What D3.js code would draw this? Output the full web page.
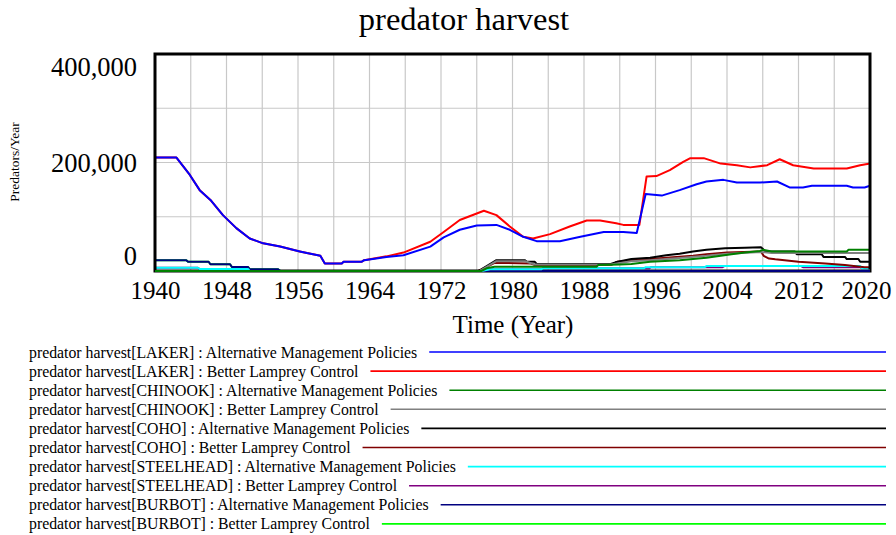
<!DOCTYPE html>
<html>
<head>
<meta charset="utf-8">
<script src="https://cdn.jsdelivr.net/npm/d3@7"></script>
<style>
  html, body { margin: 0; padding: 0; background: #fff; }
  svg { display: block; font-family: "Liberation Serif", "Times New Roman", serif; }
</style>
</head>
<body>
<svg id="chart" width="896" height="535"></svg>
<script>
// ---------------- DATA ----------------
const title = "predator harvest";
const yAxisLabel = "Predators/Year";
const xAxisLabel = "Time (Year)";
const xTicks = [1940, 1948, 1956, 1964, 1972, 1980, 1988, 1996, 2004, 2012, 2020];
const yTicks = [0, 200000, 400000];

// [year, predators/year] points
const lakerAlt = [[1940,209000],[1942.4,209000],[1943.9,177000],[1945,149000],[1946.2,131000],[1947.6,103000],[1949.1,79000],[1950.6,60000],[1952.1,51000],[1954,45000],[1956.2,36000],[1957,33000],[1958.5,28000],[1959,14000],[1960.9,14000],[1961.1,17000],[1963.1,17000],[1963.4,20000],[1965.9,26000],[1967.8,29000],[1970.8,45000],[1972.3,62000],[1974.1,76000],[1976,84000],[1978.2,85000],[1979.7,76000],[1981.2,63000],[1982.7,55000],[1985.3,55000],[1987.6,63000],[1990.2,72000],[1992.4,72000],[1993.9,70000],[1994.9,142000],[1996.7,139000],[1998.7,149000],[2000.6,160000],[2001.7,165000],[2003.6,168000],[2005.1,163000],[2007.7,163000],[2009.6,165000],[2011,154000],[2012.5,154000],[2013.5,157000],[2017.4,157000],[2018.1,154000],[2019.4,154000],[2020,157000]];
const lakerBetter = [[1940,209000],[1942.4,209000],[1943.9,177000],[1945,149000],[1946.2,131000],[1947.6,103000],[1949.1,79000],[1950.6,60000],[1952.1,51000],[1954,45000],[1956.2,36000],[1957,33000],[1958.5,28000],[1959,14000],[1960.9,14000],[1961.1,17000],[1963.1,17000],[1963.4,20000],[1965.9,27000],[1967.8,34000],[1970.8,54000],[1972.3,72000],[1974.1,94000],[1976,106000],[1976.8,111000],[1978.2,103000],[1979.7,82000],[1981.2,63000],[1982.3,60000],[1984.2,68000],[1986.4,82000],[1988.3,93000],[1989.8,93000],[1991.6,88000],[1992.4,85000],[1994.2,85000],[1995,174000],[1996.1,175000],[1997.6,186000],[1999.1,201000],[1999.9,208000],[2001.4,208000],[2003.3,198000],[2005.1,195000],[2006.6,191000],[2008.5,195000],[2009.9,206000],[2011.4,195000],[2013.7,189000],[2017.4,189000],[2018.9,195000],[2020,198000]];
const chinookAlt = [[1940,0],[1976.5,0],[1977.1,5000],[1978,8000],[1989.4,8000],[1989.6,11000],[1992,12000],[1993.3,13000],[1995.4,17000],[1998.7,20000],[2001.7,24500],[2004.5,31000],[2006,34000],[2007.7,37000],[2008,39000],[2009,36000],[2017.4,36000],[2017.6,39000],[2020,39000]];
const chinookBetter = [[1940,0],[1976.3,0],[1978.2,18000],[1981.4,18000],[1982.5,12000],[1991,12000],[1993.3,18000],[1995.4,20000],[1998.7,24000],[2001.7,28000],[2004,32000],[2007.8,35000],[2009,33000],[2020,33000]];
const cohoAlt = [[1940,0],[1976.2,0],[1978.2,20000],[1981.4,20000],[1981.6,17000],[1982.5,17000],[1982.7,13000],[1991,13000],[1991.5,16000],[1993.3,22000],[1995.4,24500],[1997.2,29000],[1998.7,32000],[2000.2,36000],[2001.7,39000],[2003.8,42000],[2006,43000],[2007.8,44000],[2008.3,36000],[2011.6,36000],[2011.8,31000],[2014.6,31000],[2014.8,26000],[2017.2,26000],[2017.4,22000],[2018.7,22000],[2018.9,17000],[2020,17000]];
const cohoBetter = [[1940,0],[1976.2,0],[1978,15000],[1982,14000],[1982.5,11000],[1991,11000],[1991.7,17000],[1993.3,20000],[1995.4,22000],[1997.2,24500],[2000.2,28000],[2001.7,31000],[2004,34000],[2007.8,36000],[2008.1,28000],[2008.7,23000],[2009.4,21500],[2012,17000],[2015,14000],[2017.2,11000],[2019.4,7000],[2020,7000]];
const steelheadAlt = [[1940,6000],[1944.8,6000],[1945,3700],[1950.4,3700],[1950.6,0],[1976.5,0],[1977.5,3000],[1983.2,3000],[1983.4,5000],[1994.7,5000],[1994.9,7000],[2001.5,7000],[2001.7,9000],[2018.9,9000],[2019.1,5000],[2020,5000]];
const steelheadBetter = [[1940,6000],[1944.8,6000],[1945,3700],[1950.4,3700],[1950.6,0],[1976.5,0],[1977.5,3000],[1983.2,3000],[1983.4,5000],[1995.3,5000],[1995.5,7000],[2003.5,7000],[2003.7,9000],[2012.3,9000],[2012.5,7000],[2018.9,7000],[2019.1,5000],[2020,5000]];
const burbotAlt = [[1940,20000],[1943.5,20000],[1943.7,17000],[1946,17000],[1946.2,12500],[1948.4,12500],[1948.6,7500],[1950.4,7500],[1950.6,3000],[1953.8,3000],[1954,0],[2020,0]];
const burbotBetter = [[1940,20000],[1943.5,20000],[1943.7,17000],[1946,17000],[1946.2,12500],[1948.4,12500],[1948.6,7500],[1950.4,7500],[1950.6,3000],[1953.8,3000],[1954,0],[2020,0]];

const seriesNames = [
  "predator harvest[LAKER] : Alternative Management Policies",
  "predator harvest[LAKER] : Better Lamprey Control",
  "predator harvest[CHINOOK] : Alternative Management Policies",
  "predator harvest[CHINOOK] : Better Lamprey Control",
  "predator harvest[COHO] : Alternative Management Policies",
  "predator harvest[COHO] : Better Lamprey Control",
  "predator harvest[STEELHEAD] : Alternative Management Policies",
  "predator harvest[STEELHEAD] : Better Lamprey Control",
  "predator harvest[BURBOT] : Alternative Management Policies",
  "predator harvest[BURBOT] : Better Lamprey Control"
];
const seriesValues = [lakerAlt, lakerBetter, chinookAlt, chinookBetter, cohoAlt, cohoBetter, steelheadAlt, steelheadBetter, burbotAlt, burbotBetter];
const seriesColors = ["#0000ff", "#ff0000", "#008000", "#808080", "#000000", "#800000", "#00ffff", "#800080", "#000080", "#00ff00"];

// ---------------- LAYOUT ----------------
const plot = { left: 155, right: 870, top: 54, bottom: 271 };
const svg = d3.select("#chart");

const x = d3.scaleLinear().domain([1940, 2020]).range([plot.left, plot.right]);
const y = d3.scaleLinear().domain([0, 400000]).range([plot.bottom, plot.top]);

// title
svg.append("text").attr("x", 464).attr("y", 30).attr("text-anchor", "middle")
  .attr("font-size", 32.5).attr("fill", "#000").text(title);

// grid
const grid = svg.append("g");
grid.selectAll("line.v").data(d3.range(1944, 2020, 4)).join("line")
  .attr("x1", d => x(d)).attr("x2", d => x(d))
  .attr("y1", plot.top).attr("y2", plot.bottom)
  .attr("stroke", "#c8c8c8").attr("stroke-width", 1.2);
grid.selectAll("line.h").data([100000, 200000, 300000]).join("line")
  .attr("x1", plot.left).attr("x2", plot.right)
  .attr("y1", d => y(d)).attr("y2", d => y(d))
  .attr("stroke", "#c8c8c8").attr("stroke-width", 1.2);

// axes (labels)
const fmt = d3.format(",");
const yAxis = svg.append("g").attr("transform", `translate(${plot.left - 18},0)`)
  .call(d3.axisLeft(y).tickValues(yTicks).tickSize(0).tickPadding(0).tickFormat(fmt));
yAxis.select(".domain").remove();
yAxis.selectAll("text").attr("font-size", 26.5).attr("font-family", "Liberation Serif").attr("fill", "#000")
  .attr("dy", d => d === 400000 ? "0.8em" : (d === 0 ? "-0.25em" : "0.33em"));

const xAxis = svg.append("g").attr("transform", `translate(0,${plot.bottom})`)
  .call(d3.axisBottom(x).tickValues(xTicks).tickSize(0).tickPadding(0).tickFormat(d3.format("d")));
xAxis.select(".domain").remove();
xAxis.selectAll("text").attr("font-size", 25).attr("font-family", "Liberation Serif").attr("fill", "#000")
  .attr("y", 19).attr("dy", "0.35em")
  .attr("x", d => d === 2020 ? -4 : 0);

svg.append("text").attr("x", 513).attr("y", 324).attr("dy", "0.35em").attr("text-anchor", "middle")
  .attr("font-size", 25).text(xAxisLabel);
svg.append("text").attr("transform", `translate(14,162) rotate(-90)`).attr("dy", "0.35em")
  .attr("text-anchor", "middle").attr("font-size", 13.5).text(yAxisLabel);

// series lines (first series drawn on top)
const line = d3.line().x(d => x(d[0])).y(d => y(d[1]));
const order = d3.range(seriesValues.length).reverse();
svg.append("g").selectAll("path").data(order).join("path")
  .attr("d", i => line(seriesValues[i]))
  .attr("fill", "none").attr("stroke", i => seriesColors[i])
  .attr("stroke-width", 2).attr("stroke-linejoin", "round");

// frame
svg.append("rect").attr("x", plot.left).attr("y", plot.top)
  .attr("width", plot.right - plot.left).attr("height", plot.bottom - plot.top)
  .attr("fill", "none").attr("stroke", "#000").attr("stroke-width", 3);
// re-draw series over the bottom frame edge
svg.append("clipPath").attr("id", "bottomClip").append("rect")
  .attr("x", plot.left).attr("y", plot.bottom - 2).attr("width", plot.right - plot.left).attr("height", 4);
svg.append("g").attr("clip-path", "url(#bottomClip)").selectAll("path").data(order).join("path")
  .attr("d", i => line(seriesValues[i]))
  .attr("fill", "none").attr("stroke", i => seriesColors[i])
  .attr("stroke-width", 2).attr("stroke-linejoin", "round");

// legend
const legend = svg.append("g");
const rowY = i => 352 + i * 19.1;
seriesNames.forEach((name, i) => {
  const t = legend.append("text").attr("x", 29).attr("y", rowY(i)).attr("dy", "0.35em")
    .attr("font-size", 15.8).attr("fill", "#000").text(name);
  const w = t.node().getComputedTextLength();
  legend.append("line").attr("x1", 29 + w + 12).attr("x2", 886)
    .attr("y1", rowY(i)).attr("y2", rowY(i))
    .attr("stroke", seriesColors[i]).attr("stroke-width", 1.6);
});
</script>
</body>
</html>
